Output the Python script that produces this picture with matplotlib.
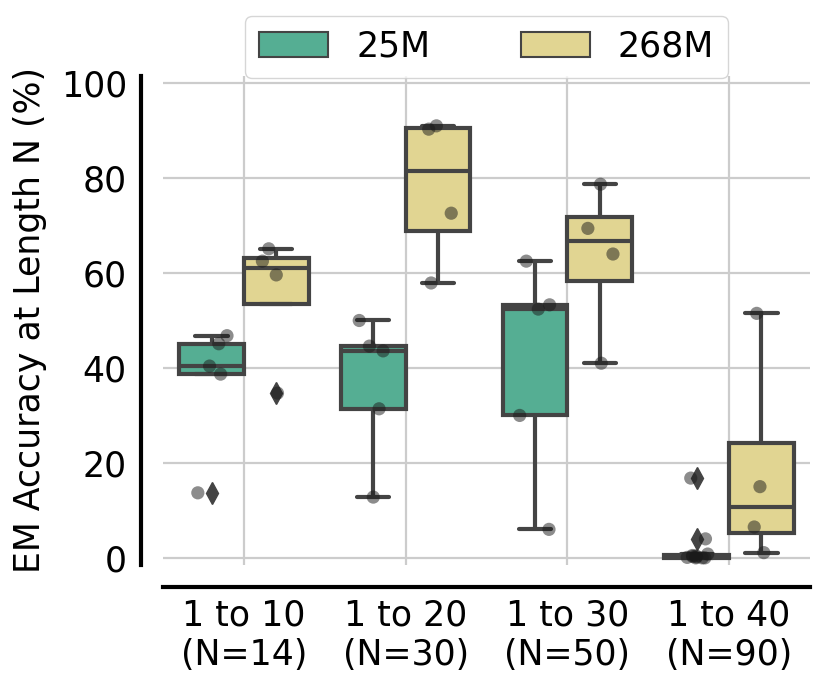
import numpy as np
import pandas as pd
import matplotlib
matplotlib.use('Agg')
import matplotlib.pyplot as plt
import seaborn as sns

# 데이터
groups = ['1 to 10\n(N=14)', '1 to 20\n(N=30)', '1 to 30\n(N=50)', '1 to 40\n(N=90)']
models = ['25M', '268M']

acc_25m = [
    [13.7, 38.7, 40.4, 45.1, 46.8],
    [12.8, 31.4, 43.6, 44.6, 50.0],
    [6.0, 30.0, 52.4, 53.3, 62.5],
    [0.0, 0.0, 0.0, 0.1, 0.2, 0.3, 0.4, 0.5, 0.8, 4.0, 16.8],
]
acc_268m = [
    [34.7, 59.6, 62.5, 65.1],
    [57.9, 72.6, 90.3, 91.0],
    [41.0, 64.0, 69.4, 78.7],
    [1.1, 6.5, 15.0, 51.5],
]

colors = ['#55ae93', '#e1d592']

rows = []
for g, vals in zip(groups, acc_25m):
    for v in vals:
        rows.append({'group': g, 'model': '25M', 'acc': v})
for g, vals in zip(groups, acc_268m):
    for v in vals:
        rows.append({'group': g, 'model': '268M', 'acc': v})
df = pd.DataFrame(rows)

sns.set_theme(style='whitegrid')
plt.rcParams['font.family'] = ['DejaVu Sans']
for k in ['text.color', 'axes.labelcolor', 'xtick.color', 'ytick.color']:
    plt.rcParams[k] = 'black'

fig = plt.figure(figsize=(8.3, 6.89), dpi=100)
ax = fig.add_axes([0.1964, 0.180, 0.7795, 0.7097])

sns.boxplot(data=df, x='group', y='acc', hue='model', order=groups, hue_order=models,
            palette=colors, saturation=1, linewidth=3, linecolor='#444444',
            fliersize=11, flierprops={'marker': 'd', 'markerfacecolor': '#444444',
                                      'markeredgecolor': '#444444'},
            ax=ax)

np.random.seed(7)
sns.stripplot(data=df, x='group', y='acc', hue='model', order=groups, hue_order=models,
              palette=['k', 'k'], dodge=True, jitter=0.2, size=9.5, alpha=0.5,
              legend=False, ax=ax)

ax.set_ylim(-1.5, 101.5)
ax.set_xlim(-0.5, 3.5)
ax.set_yticks([0, 20, 40, 60, 80, 100])
ax.set_xlabel('')
ax.set_ylabel('EM Accuracy at Length N (%)', fontsize=25, labelpad=10)
ax.tick_params(axis='both', labelsize=25, length=0, colors='black')
ax.tick_params(axis='y', pad=10)
ax.tick_params(axis='x', pad=8)
ax.grid(True, axis='both', color='#cccccc', linewidth=1.6)
ax.set_axisbelow(True)

sns.despine(ax=ax, offset=16)
for s in ['left', 'bottom']:
    ax.spines[s].set_color('black')
    ax.spines[s].set_linewidth(3)

handles, labels = ax.get_legend_handles_labels()
if ax.get_legend() is not None:
    ax.get_legend().remove()
leg = ax.legend(handles[:2], labels[:2], loc='upper center', bbox_to_anchor=(0.5, 1.123),
                ncol=2, fontsize=25, borderaxespad=0, columnspacing=2.6, frameon=True)
leg.get_frame().set_edgecolor('#cccccc')
for h in leg.legend_handles:
    h.set_linewidth(1.5)

plt.savefig('out.png', dpi=100)
